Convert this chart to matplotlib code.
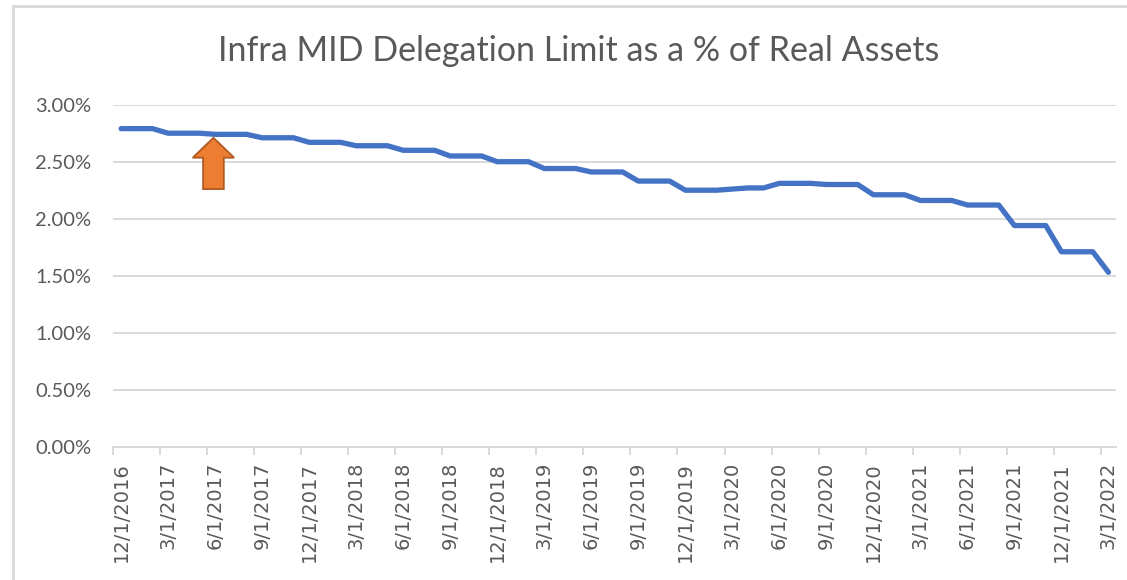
import numpy as np
import matplotlib
matplotlib.use("Agg")
import matplotlib.pyplot as plt
from matplotlib.lines import Line2D
from matplotlib.patches import FancyArrow

# ---- data ----
title = "Infra MID Delegation Limit as a % of Real Assets"

tick_labels = ["12/1/2016", "3/1/2017", "6/1/2017", "9/1/2017", "12/1/2017",
               "3/1/2018", "6/1/2018", "9/1/2018", "12/1/2018", "3/1/2019",
               "6/1/2019", "9/1/2019", "12/1/2019", "3/1/2020", "6/1/2020",
               "9/1/2020", "12/1/2020", "3/1/2021", "6/1/2021", "9/1/2021",
               "12/1/2021", "3/1/2022"]

# monthly values (percent), 12/2016 .. 3/2022
limit_pct = [2.79, 2.79, 2.79,   # 12/16 - 2/17
             2.75, 2.75, 2.75,   # 3/17 - 5/17
             2.74, 2.74, 2.74,   # 6/17 - 8/17
             2.71, 2.71, 2.71,   # 9/17 - 11/17
             2.67, 2.67, 2.67,   # 12/17 - 2/18
             2.64, 2.64, 2.64,   # 3/18 - 5/18
             2.60, 2.60, 2.60,   # 6/18 - 8/18
             2.55, 2.55, 2.55,   # 9/18 - 11/18
             2.50, 2.50, 2.50,   # 12/18 - 2/19
             2.44, 2.44, 2.44,   # 3/19 - 5/19
             2.41, 2.41, 2.41,   # 6/19 - 8/19
             2.33, 2.33, 2.33,   # 9/19 - 11/19
             2.25, 2.25, 2.25,   # 12/19 - 2/20
             2.26, 2.27, 2.27,   # 3/20 - 5/20
             2.31, 2.31, 2.31,   # 6/20 - 8/20
             2.30, 2.30, 2.30,   # 9/20 - 11/20
             2.21, 2.21, 2.21,   # 12/20 - 2/21
             2.16, 2.16, 2.16,   # 3/21 - 5/21
             2.12, 2.12, 2.12,   # 6/21 - 8/21
             1.94, 1.94, 1.94,   # 9/21 - 11/21
             1.71, 1.71, 1.71,   # 12/21 - 2/22
             1.53]               # 3/22

y_ticks = [0.0, 0.5, 1.0, 1.5, 2.0, 2.5, 3.0]

# ---- figure ----
W, H = 1127, 580
fig = plt.figure(figsize=(W / 100, H / 100), dpi=100)
fig.patch.set_facecolor("white")

left_px, right_px, top_px, bottom_px = 113.3, 1116.3, 104.7, 446.7
ax = fig.add_axes([left_px / W, (H - bottom_px) / H,
                   (right_px - left_px) / W, (bottom_px - top_px) / H])

n = len(limit_pct)
x = np.arange(n)
ax.plot(x, limit_pct, color="#4472C4", lw=3.8, solid_capstyle="round",
        solid_joinstyle="round", zorder=3)

grey = "#D9D9D9"
text_grey = "#595959"

ax.set_xlim(-0.5, n - 0.5)
ax.set_ylim(0, 3.0)
ax.set_yticks(y_ticks)
ax.set_yticklabels([f"{v:.2f}%" for v in y_ticks], fontfamily="Lato",
                   fontsize=14.5, color=text_grey)
ax.tick_params(axis="y", length=0, pad=16)
ax.yaxis.grid(True, color=grey, lw=1.4)
ax.set_axisbelow(True)

label_pos = np.arange(0, n, 3)
boundary_pos = label_pos - 0.5
ax.set_xticks(boundary_pos)
ax.set_xticklabels([])
ax.tick_params(axis="x", which="major", length=6, width=1.4, color=grey)
ax.set_xticks(label_pos, minor=True)
ax.set_xticklabels(tick_labels, minor=True, rotation=90, fontfamily="DejaVu Sans",
                   fontsize=14, color=text_grey)
ax.tick_params(axis="x", which="minor", length=0, pad=11)

for s in ["top", "right", "left"]:
    ax.spines[s].set_visible(False)
ax.spines["bottom"].set_color(grey)
ax.spines["bottom"].set_linewidth(1.4)

# orange arrow annotation pointing at 6/1/2017
arrow = FancyArrow(5.89, 2.26, 0, 0.45, width=1.32, head_width=2.64,
                   head_length=0.175, length_includes_head=True,
                   fc="#ED7D31", ec="#AE5A21", lw=1.3, zorder=4)
ax.add_patch(arrow)

# title
fig.text(579 / W, 1 - 51 / H, title, ha="center", va="center",
         fontfamily="Lato", fontsize=24.5, color=text_grey)

# chart-area border (left and top)
fig.add_artist(Line2D([13 / W, 13 / W], [0, 1 - 6 / H], transform=fig.transFigure,
                      color=grey, lw=2))
fig.add_artist(Line2D([13 / W, 1], [1 - 6 / H, 1 - 6 / H], transform=fig.transFigure,
                      color=grey, lw=2))

fig.savefig("out.png", dpi=100, facecolor="white")
